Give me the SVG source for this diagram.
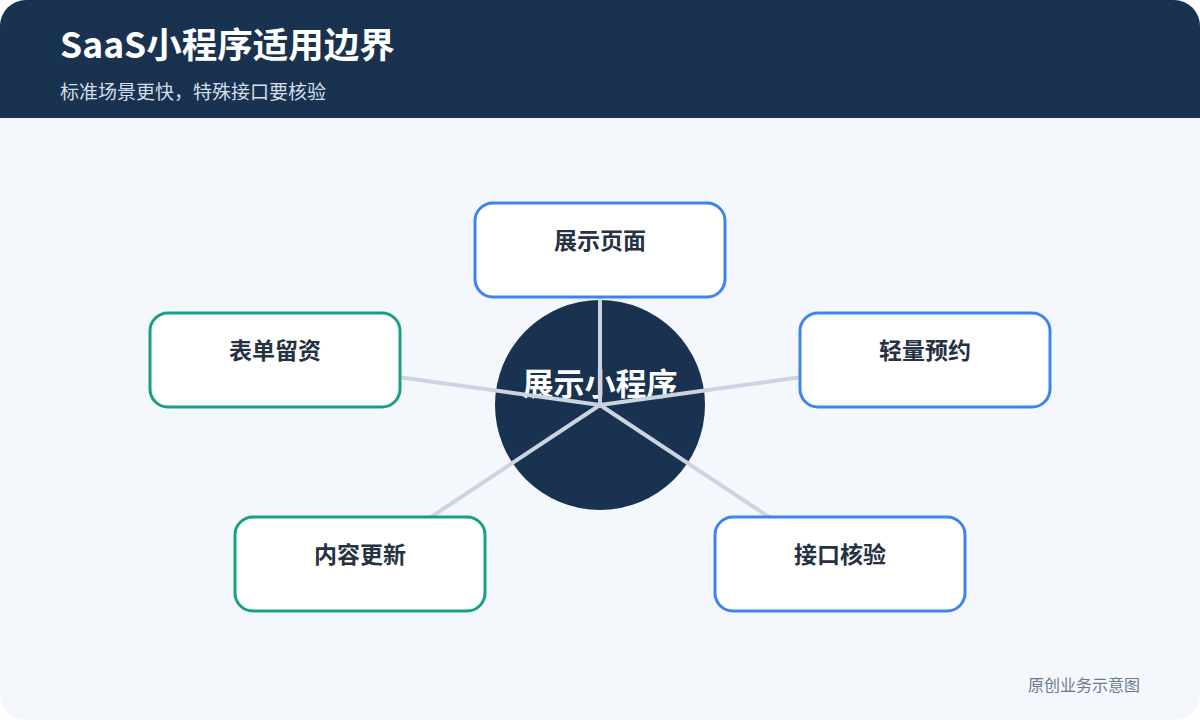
<svg xmlns="http://www.w3.org/2000/svg" width="1200" height="720" viewBox="0 0 1200 720">
<style>
.box{fill:#ffffff;stroke-width:3}
.blue{stroke:#3f83f0}
.green{stroke:#17a085}
.lbl{font-family:"Noto Sans CJK SC","Noto Sans",sans-serif;font-size:23px;font-weight:700;fill:#263142;text-anchor:middle}
.edge{stroke:#cbd5e1;stroke-width:4;fill:none;stroke-linecap:round}
</style>
<rect x="0" y="0" width="1200" height="720" rx="26" fill="#f4f8fd"/>
<path d="M26 0 H1174 A26 26 0 0 1 1200 26 V118 H0 V26 A26 26 0 0 1 26 0 Z" fill="#18324f"/>
<text x="60" y="58" font-family="'Noto Sans CJK SC','Noto Sans',sans-serif" font-size="35.5" font-weight="700" fill="#ffffff">SaaS小程序适用边界</text>
<text x="60" y="99" font-family="'Noto Sans CJK SC','Noto Sans',sans-serif" font-size="19" fill="#d5dee9">标准场景更快，特殊接口要核验</text>
<g id="hub">
<circle cx="600" cy="405" r="105" fill="#18324f"/>
<text x="600" y="395" font-family="'Noto Sans CJK SC','Noto Sans',sans-serif" font-size="31" font-weight="700" fill="#ffffff" text-anchor="middle">展示小程序</text>
</g>
<g id="connectors">
<line class="edge" x1="600" y1="405" x2="600" y2="250"/>
<line class="edge" x1="600" y1="405" x2="925" y2="360"/>
<line class="edge" x1="600" y1="405" x2="275" y2="360"/>
<line class="edge" x1="600" y1="405" x2="360" y2="564"/>
<line class="edge" x1="600" y1="405" x2="840" y2="564"/>
</g>
<g id="n1"><rect class="box blue" x="475" y="203" width="250" height="94" rx="18"/><text class="lbl" x="600" y="249">展示页面</text></g>
<g id="n2"><rect class="box blue" x="800" y="313" width="250" height="94" rx="18"/><text class="lbl" x="925" y="359">轻量预约</text></g>
<g id="n3"><rect class="box green" x="150" y="313" width="250" height="94" rx="18"/><text class="lbl" x="275" y="359">表单留资</text></g>
<g id="n4"><rect class="box green" x="235" y="517" width="250" height="94" rx="18"/><text class="lbl" x="360" y="563">内容更新</text></g>
<g id="n5"><rect class="box blue" x="715" y="517" width="250" height="94" rx="18"/><text class="lbl" x="840" y="563">接口核验</text></g>
<text x="1140" y="691" font-family="'Noto Sans CJK SC','Noto Sans',sans-serif" font-size="16" fill="#6b7a90" text-anchor="end">原创业务示意图</text>
</svg>
